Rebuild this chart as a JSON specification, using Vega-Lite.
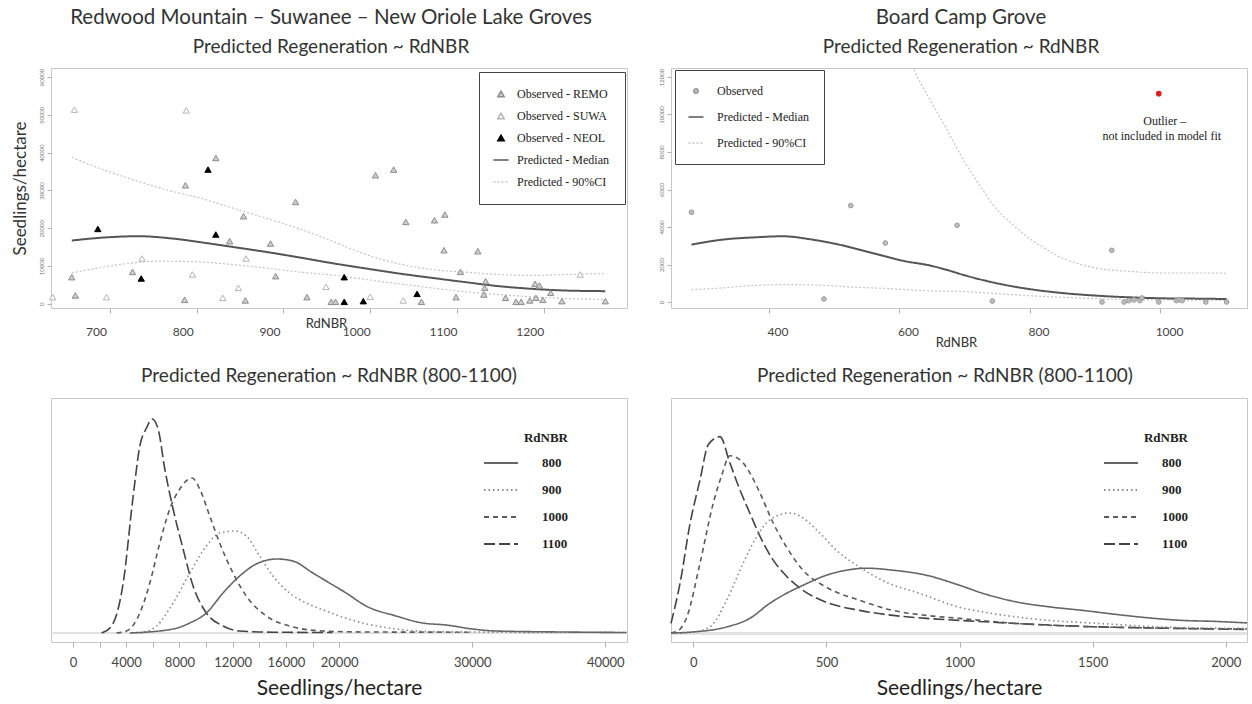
{
  "$schema": "https://vega.github.io/schema/vega-lite/v6.json",
  "background": "white",
  "padding": {"left": 10, "top": 7, "right": 4, "bottom": 6},
  "config": {
    "view": {"stroke": "#c8c8c8", "strokeWidth": 1},
    "axis": {"domain": false, "grid": false, "tickColor": "#b0b0b0", "labelColor": "#444444", "labelFont": "Lato", "titleFont": "Lato", "titleFontWeight": "normal", "titleColor": "#333333", "labelOverlap": false, "labelFlush": false},
    "title": {"font": "Lato", "fontWeight": "normal", "color": "#333333", "subtitleFont": "Lato", "subtitleColor": "#333333", "anchor": "middle"},
    "legend": {"labelFont": "Liberation Serif", "labelColor": "#222222", "labelLimit": 0}
  },
  "datasets": {
    "tl_pts": [
      {"rdnbr": 656, "sph": 7057, "series": "Observed - REMO"},
      {"rdnbr": 660, "sph": 2220, "series": "Observed - REMO"},
      {"rdnbr": 726, "sph": 8458, "series": "Observed - REMO"},
      {"rdnbr": 786, "sph": 1057, "series": "Observed - REMO"},
      {"rdnbr": 787, "sph": 31372, "series": "Observed - REMO"},
      {"rdnbr": 822, "sph": 38588, "series": "Observed - REMO"},
      {"rdnbr": 838, "sph": 16572, "series": "Observed - REMO"},
      {"rdnbr": 854, "sph": 23179, "series": "Observed - REMO"},
      {"rdnbr": 856, "sph": 898, "series": "Observed - REMO"},
      {"rdnbr": 885, "sph": 15963, "series": "Observed - REMO"},
      {"rdnbr": 891, "sph": 7321, "series": "Observed - REMO"},
      {"rdnbr": 914, "sph": 26959, "series": "Observed - REMO"},
      {"rdnbr": 927, "sph": 1770, "series": "Observed - REMO"},
      {"rdnbr": 955, "sph": 529, "series": "Observed - REMO"},
      {"rdnbr": 960, "sph": 529, "series": "Observed - REMO"},
      {"rdnbr": 1006, "sph": 34015, "series": "Observed - REMO"},
      {"rdnbr": 1027, "sph": 35522, "series": "Observed - REMO"},
      {"rdnbr": 1041, "sph": 21673, "series": "Observed - REMO"},
      {"rdnbr": 1059, "sph": 529, "series": "Observed - REMO"},
      {"rdnbr": 1074, "sph": 22122, "series": "Observed - REMO"},
      {"rdnbr": 1086, "sph": 23628, "series": "Observed - REMO"},
      {"rdnbr": 1085, "sph": 14193, "series": "Observed - REMO"},
      {"rdnbr": 1099, "sph": 1770, "series": "Observed - REMO"},
      {"rdnbr": 1104, "sph": 8458, "series": "Observed - REMO"},
      {"rdnbr": 1124, "sph": 13928, "series": "Observed - REMO"},
      {"rdnbr": 1132, "sph": 4229, "series": "Observed - REMO"},
      {"rdnbr": 1131, "sph": 2484, "series": "Observed - REMO"},
      {"rdnbr": 1133, "sph": 6000, "series": "Observed - REMO"},
      {"rdnbr": 1156, "sph": 1586, "series": "Observed - REMO"},
      {"rdnbr": 1168, "sph": 529, "series": "Observed - REMO"},
      {"rdnbr": 1174, "sph": 529, "series": "Observed - REMO"},
      {"rdnbr": 1184, "sph": 898, "series": "Observed - REMO"},
      {"rdnbr": 1190, "sph": 5286, "series": "Observed - REMO"},
      {"rdnbr": 1195, "sph": 4863, "series": "Observed - REMO"},
      {"rdnbr": 1191, "sph": 1586, "series": "Observed - REMO"},
      {"rdnbr": 1199, "sph": 1057, "series": "Observed - REMO"},
      {"rdnbr": 1208, "sph": 2907, "series": "Observed - REMO"},
      {"rdnbr": 1221, "sph": 714, "series": "Observed - REMO"},
      {"rdnbr": 1271, "sph": 714, "series": "Observed - REMO"},
      {"rdnbr": 634, "sph": 1770, "series": "Observed - SUWA"},
      {"rdnbr": 659, "sph": 51380, "series": "Observed - SUWA"},
      {"rdnbr": 696, "sph": 1770, "series": "Observed - SUWA"},
      {"rdnbr": 737, "sph": 11998, "series": "Observed - SUWA"},
      {"rdnbr": 788, "sph": 51195, "series": "Observed - SUWA"},
      {"rdnbr": 795, "sph": 7770, "series": "Observed - SUWA"},
      {"rdnbr": 830, "sph": 1586, "series": "Observed - SUWA"},
      {"rdnbr": 848, "sph": 4229, "series": "Observed - SUWA"},
      {"rdnbr": 857, "sph": 11998, "series": "Observed - SUWA"},
      {"rdnbr": 949, "sph": 4493, "series": "Observed - SUWA"},
      {"rdnbr": 1000, "sph": 1850, "series": "Observed - SUWA"},
      {"rdnbr": 1038, "sph": 898, "series": "Observed - SUWA"},
      {"rdnbr": 1242, "sph": 7770, "series": "Observed - SUWA"},
      {"rdnbr": 686, "sph": 19823, "series": "Observed - NEOL"},
      {"rdnbr": 736, "sph": 6713, "series": "Observed - NEOL"},
      {"rdnbr": 813, "sph": 35522, "series": "Observed - NEOL"},
      {"rdnbr": 822, "sph": 18342, "series": "Observed - NEOL"},
      {"rdnbr": 970, "sph": 7057, "series": "Observed - NEOL"},
      {"rdnbr": 970, "sph": 529, "series": "Observed - NEOL"},
      {"rdnbr": 992, "sph": 714, "series": "Observed - NEOL"},
      {"rdnbr": 1054, "sph": 2643, "series": "Observed - NEOL"}
    ],
    "tl_fit": [
      {"rdnbr": 656, "sph": 16750, "series": "Predicted - Median", "band": "median"},
      {"rdnbr": 687, "sph": 17445, "series": "Predicted - Median", "band": "median"},
      {"rdnbr": 733, "sph": 17890, "series": "Predicted - Median", "band": "median"},
      {"rdnbr": 772, "sph": 17280, "series": "Predicted - Median", "band": "median"},
      {"rdnbr": 810, "sph": 16120, "series": "Predicted - Median", "band": "median"},
      {"rdnbr": 849, "sph": 14800, "series": "Predicted - Median", "band": "median"},
      {"rdnbr": 887, "sph": 13480, "series": "Predicted - Median", "band": "median"},
      {"rdnbr": 921, "sph": 12170, "series": "Predicted - Median", "band": "median"},
      {"rdnbr": 954, "sph": 10840, "series": "Predicted - Median", "band": "median"},
      {"rdnbr": 995, "sph": 9356, "series": "Predicted - Median", "band": "median"},
      {"rdnbr": 1033, "sph": 8035, "series": "Predicted - Median", "band": "median"},
      {"rdnbr": 1071, "sph": 6872, "series": "Predicted - Median", "band": "median"},
      {"rdnbr": 1110, "sph": 5735, "series": "Predicted - Median", "band": "median"},
      {"rdnbr": 1148, "sph": 4678, "series": "Predicted - Median", "band": "median"},
      {"rdnbr": 1187, "sph": 3965, "series": "Predicted - Median", "band": "median"},
      {"rdnbr": 1225, "sph": 3524, "series": "Predicted - Median", "band": "median"},
      {"rdnbr": 1271, "sph": 3357, "series": "Predicted - Median", "band": "median"},
      {"rdnbr": 656, "sph": 38773, "series": "Predicted - 90%CI", "band": "upper"},
      {"rdnbr": 687, "sph": 35945, "series": "Predicted - 90%CI", "band": "upper"},
      {"rdnbr": 726, "sph": 32879, "series": "Predicted - 90%CI", "band": "upper"},
      {"rdnbr": 764, "sph": 30236, "series": "Predicted - 90%CI", "band": "upper"},
      {"rdnbr": 803, "sph": 28016, "series": "Predicted - 90%CI", "band": "upper"},
      {"rdnbr": 841, "sph": 25373, "series": "Predicted - 90%CI", "band": "upper"},
      {"rdnbr": 879, "sph": 22730, "series": "Predicted - 90%CI", "band": "upper"},
      {"rdnbr": 918, "sph": 19875, "series": "Predicted - 90%CI", "band": "upper"},
      {"rdnbr": 954, "sph": 16800, "series": "Predicted - 90%CI", "band": "upper"},
      {"rdnbr": 995, "sph": 13057, "series": "Predicted - 90%CI", "band": "upper"},
      {"rdnbr": 1033, "sph": 10572, "series": "Predicted - 90%CI", "band": "upper"},
      {"rdnbr": 1071, "sph": 9092, "series": "Predicted - 90%CI", "band": "upper"},
      {"rdnbr": 1110, "sph": 8378, "series": "Predicted - 90%CI", "band": "upper"},
      {"rdnbr": 1148, "sph": 7770, "series": "Predicted - 90%CI", "band": "upper"},
      {"rdnbr": 1187, "sph": 7506, "series": "Predicted - 90%CI", "band": "upper"},
      {"rdnbr": 1225, "sph": 7770, "series": "Predicted - 90%CI", "band": "upper"},
      {"rdnbr": 1271, "sph": 8035, "series": "Predicted - 90%CI", "band": "upper"},
      {"rdnbr": 656, "sph": 8193, "series": "Predicted - 90%CI", "band": "lower"},
      {"rdnbr": 687, "sph": 9515, "series": "Predicted - 90%CI", "band": "lower"},
      {"rdnbr": 726, "sph": 10840, "series": "Predicted - 90%CI", "band": "lower"},
      {"rdnbr": 756, "sph": 11286, "series": "Predicted - 90%CI", "band": "lower"},
      {"rdnbr": 803, "sph": 11100, "series": "Predicted - 90%CI", "band": "lower"},
      {"rdnbr": 841, "sph": 10413, "series": "Predicted - 90%CI", "band": "lower"},
      {"rdnbr": 879, "sph": 9515, "series": "Predicted - 90%CI", "band": "lower"},
      {"rdnbr": 918, "sph": 8418, "series": "Predicted - 90%CI", "band": "lower"},
      {"rdnbr": 954, "sph": 7680, "series": "Predicted - 90%CI", "band": "lower"},
      {"rdnbr": 995, "sph": 6449, "series": "Predicted - 90%CI", "band": "lower"},
      {"rdnbr": 1033, "sph": 5286, "series": "Predicted - 90%CI", "band": "lower"},
      {"rdnbr": 1071, "sph": 4229, "series": "Predicted - 90%CI", "band": "lower"},
      {"rdnbr": 1110, "sph": 3172, "series": "Predicted - 90%CI", "band": "lower"},
      {"rdnbr": 1148, "sph": 2484, "series": "Predicted - 90%CI", "band": "lower"},
      {"rdnbr": 1187, "sph": 1850, "series": "Predicted - 90%CI", "band": "lower"},
      {"rdnbr": 1225, "sph": 1427, "series": "Predicted - 90%CI", "band": "lower"},
      {"rdnbr": 1271, "sph": 1163, "series": "Predicted - 90%CI", "band": "lower"}
    ],
    "tr_pts": [
      {"rdnbr": 282, "sph": 4784, "series": "Observed"},
      {"rdnbr": 485, "sph": 160, "series": "Observed"},
      {"rdnbr": 526, "sph": 5141, "series": "Observed"},
      {"rdnbr": 579, "sph": 3147, "series": "Observed"},
      {"rdnbr": 689, "sph": 4090, "series": "Observed"},
      {"rdnbr": 743, "sph": 50, "series": "Observed"},
      {"rdnbr": 926, "sph": 2757, "series": "Observed"},
      {"rdnbr": 911, "sph": 0, "series": "Observed"},
      {"rdnbr": 945, "sph": 0, "series": "Observed"},
      {"rdnbr": 952, "sph": 75, "series": "Observed"},
      {"rdnbr": 960, "sph": 110, "series": "Observed"},
      {"rdnbr": 969, "sph": 75, "series": "Observed"},
      {"rdnbr": 972, "sph": 213, "series": "Observed"},
      {"rdnbr": 998, "sph": 0, "series": "Observed"},
      {"rdnbr": 1025, "sph": 75, "series": "Observed"},
      {"rdnbr": 1030, "sph": 130, "series": "Observed"},
      {"rdnbr": 1034, "sph": 75, "series": "Observed"},
      {"rdnbr": 1070, "sph": 0, "series": "Observed"},
      {"rdnbr": 1102, "sph": 0, "series": "Observed"}
    ],
    "tr_outlier": [
      {"rdnbr": 998, "sph": 11113, "note": "Outlier –", "note2": "not included in model fit"}
    ],
    "tr_fit": [
      {"rdnbr": 282, "sph": 3061, "series": "Predicted - Median", "band": "median"},
      {"rdnbr": 330, "sph": 3328, "series": "Predicted - Median", "band": "median"},
      {"rdnbr": 381, "sph": 3452, "series": "Predicted - Median", "band": "median"},
      {"rdnbr": 421, "sph": 3506, "series": "Predicted - Median", "band": "median"},
      {"rdnbr": 467, "sph": 3328, "series": "Predicted - Median", "band": "median"},
      {"rdnbr": 508, "sph": 3061, "series": "Predicted - Median", "band": "median"},
      {"rdnbr": 559, "sph": 2613, "series": "Predicted - Median", "band": "median"},
      {"rdnbr": 610, "sph": 2171, "series": "Predicted - Median", "band": "median"},
      {"rdnbr": 646, "sph": 1957, "series": "Predicted - Median", "band": "median"},
      {"rdnbr": 677, "sph": 1674, "series": "Predicted - Median", "band": "median"},
      {"rdnbr": 697, "sph": 1461, "series": "Predicted - Median", "band": "median"},
      {"rdnbr": 748, "sph": 1013, "series": "Predicted - Median", "band": "median"},
      {"rdnbr": 799, "sph": 693, "series": "Predicted - Median", "band": "median"},
      {"rdnbr": 850, "sph": 480, "series": "Predicted - Median", "band": "median"},
      {"rdnbr": 901, "sph": 341, "series": "Predicted - Median", "band": "median"},
      {"rdnbr": 952, "sph": 251, "series": "Predicted - Median", "band": "median"},
      {"rdnbr": 1003, "sph": 197, "series": "Predicted - Median", "band": "median"},
      {"rdnbr": 1054, "sph": 180, "series": "Predicted - Median", "band": "median"},
      {"rdnbr": 1102, "sph": 160, "series": "Predicted - Median", "band": "median"},
      {"rdnbr": 610, "sph": 13600, "series": "Predicted - 90%CI", "band": "upper"},
      {"rdnbr": 623, "sph": 12394, "series": "Predicted - 90%CI", "band": "upper"},
      {"rdnbr": 646, "sph": 10879, "series": "Predicted - 90%CI", "band": "upper"},
      {"rdnbr": 672, "sph": 9279, "series": "Predicted - 90%CI", "band": "upper"},
      {"rdnbr": 697, "sph": 7680, "series": "Predicted - 90%CI", "band": "upper"},
      {"rdnbr": 723, "sph": 6261, "series": "Predicted - 90%CI", "band": "upper"},
      {"rdnbr": 748, "sph": 5013, "series": "Predicted - 90%CI", "band": "upper"},
      {"rdnbr": 774, "sph": 4128, "series": "Predicted - 90%CI", "band": "upper"},
      {"rdnbr": 799, "sph": 3413, "series": "Predicted - 90%CI", "band": "upper"},
      {"rdnbr": 825, "sph": 2827, "series": "Predicted - 90%CI", "band": "upper"},
      {"rdnbr": 850, "sph": 2347, "series": "Predicted - 90%CI", "band": "upper"},
      {"rdnbr": 876, "sph": 2026, "series": "Predicted - 90%CI", "band": "upper"},
      {"rdnbr": 901, "sph": 1813, "series": "Predicted - 90%CI", "band": "upper"},
      {"rdnbr": 952, "sph": 1637, "series": "Predicted - 90%CI", "band": "upper"},
      {"rdnbr": 1003, "sph": 1548, "series": "Predicted - 90%CI", "band": "upper"},
      {"rdnbr": 1054, "sph": 1548, "series": "Predicted - 90%CI", "band": "upper"},
      {"rdnbr": 1102, "sph": 1530, "series": "Predicted - 90%CI", "band": "upper"},
      {"rdnbr": 282, "sph": 661, "series": "Predicted - 90%CI", "band": "lower"},
      {"rdnbr": 330, "sph": 750, "series": "Predicted - 90%CI", "band": "lower"},
      {"rdnbr": 381, "sph": 891, "series": "Predicted - 90%CI", "band": "lower"},
      {"rdnbr": 432, "sph": 928, "series": "Predicted - 90%CI", "band": "lower"},
      {"rdnbr": 483, "sph": 891, "series": "Predicted - 90%CI", "band": "lower"},
      {"rdnbr": 534, "sph": 784, "series": "Predicted - 90%CI", "band": "lower"},
      {"rdnbr": 585, "sph": 714, "series": "Predicted - 90%CI", "band": "lower"},
      {"rdnbr": 636, "sph": 608, "series": "Predicted - 90%CI", "band": "lower"},
      {"rdnbr": 677, "sph": 571, "series": "Predicted - 90%CI", "band": "lower"},
      {"rdnbr": 697, "sph": 560, "series": "Predicted - 90%CI", "band": "lower"},
      {"rdnbr": 748, "sph": 448, "series": "Predicted - 90%CI", "band": "lower"},
      {"rdnbr": 799, "sph": 341, "series": "Predicted - 90%CI", "band": "lower"},
      {"rdnbr": 850, "sph": 251, "series": "Predicted - 90%CI", "band": "lower"},
      {"rdnbr": 901, "sph": 180, "series": "Predicted - 90%CI", "band": "lower"},
      {"rdnbr": 952, "sph": 126, "series": "Predicted - 90%CI", "band": "lower"},
      {"rdnbr": 1003, "sph": 110, "series": "Predicted - 90%CI", "band": "lower"},
      {"rdnbr": 1102, "sph": 90, "series": "Predicted - 90%CI", "band": "lower"}
    ],
    "bl_dens": [
      {"seedlings": 2150, "density": 0, "RdNBR": 1100},
      {"seedlings": 2900, "density": 7, "RdNBR": 1100},
      {"seedlings": 3775, "density": 50, "RdNBR": 1100},
      {"seedlings": 4525, "density": 137, "RdNBR": 1100},
      {"seedlings": 5025, "density": 187, "RdNBR": 1100},
      {"seedlings": 5525, "density": 205, "RdNBR": 1100},
      {"seedlings": 5950, "density": 214, "RdNBR": 1100},
      {"seedlings": 6400, "density": 204, "RdNBR": 1100},
      {"seedlings": 6900, "density": 164, "RdNBR": 1100},
      {"seedlings": 7525, "density": 124, "RdNBR": 1100},
      {"seedlings": 8275, "density": 84, "RdNBR": 1100},
      {"seedlings": 9025, "density": 47, "RdNBR": 1100},
      {"seedlings": 10025, "density": 20, "RdNBR": 1100},
      {"seedlings": 11275, "density": 7, "RdNBR": 1100},
      {"seedlings": 12525, "density": 2, "RdNBR": 1100},
      {"seedlings": 15025, "density": 0.8, "RdNBR": 1100},
      {"seedlings": 19500, "density": 0.5, "RdNBR": 1100},
      {"seedlings": 3275, "density": 0, "RdNBR": 1000},
      {"seedlings": 4025, "density": 2, "RdNBR": 1000},
      {"seedlings": 5025, "density": 20, "RdNBR": 1000},
      {"seedlings": 5775, "density": 50, "RdNBR": 1000},
      {"seedlings": 6525, "density": 90, "RdNBR": 1000},
      {"seedlings": 7275, "density": 124, "RdNBR": 1000},
      {"seedlings": 8025, "density": 144, "RdNBR": 1000},
      {"seedlings": 8950, "density": 155, "RdNBR": 1000},
      {"seedlings": 9525, "density": 144, "RdNBR": 1000},
      {"seedlings": 10275, "density": 117, "RdNBR": 1000},
      {"seedlings": 11025, "density": 90, "RdNBR": 1000},
      {"seedlings": 12025, "density": 60, "RdNBR": 1000},
      {"seedlings": 13025, "density": 37, "RdNBR": 1000},
      {"seedlings": 14525, "density": 17, "RdNBR": 1000},
      {"seedlings": 16275, "density": 7, "RdNBR": 1000},
      {"seedlings": 18775, "density": 2, "RdNBR": 1000},
      {"seedlings": 22000, "density": 1, "RdNBR": 1000},
      {"seedlings": 30000, "density": 0.8, "RdNBR": 1000},
      {"seedlings": 5025, "density": 0, "RdNBR": 900},
      {"seedlings": 6275, "density": 7, "RdNBR": 900},
      {"seedlings": 7525, "density": 30, "RdNBR": 900},
      {"seedlings": 8775, "density": 60, "RdNBR": 900},
      {"seedlings": 10025, "density": 87, "RdNBR": 900},
      {"seedlings": 11025, "density": 100, "RdNBR": 900},
      {"seedlings": 12150, "density": 102, "RdNBR": 900},
      {"seedlings": 13025, "density": 97, "RdNBR": 900},
      {"seedlings": 14025, "density": 77, "RdNBR": 900},
      {"seedlings": 15025, "density": 57, "RdNBR": 900},
      {"seedlings": 16275, "density": 40, "RdNBR": 900},
      {"seedlings": 17525, "density": 30, "RdNBR": 900},
      {"seedlings": 19025, "density": 22, "RdNBR": 900},
      {"seedlings": 20025, "density": 17, "RdNBR": 900},
      {"seedlings": 21775, "density": 10, "RdNBR": 900},
      {"seedlings": 24275, "density": 4, "RdNBR": 900},
      {"seedlings": 26775, "density": 1.5, "RdNBR": 900},
      {"seedlings": 30000, "density": 1, "RdNBR": 900},
      {"seedlings": 35000, "density": 0.6, "RdNBR": 900},
      {"seedlings": 41600, "density": 0.5, "RdNBR": 900},
      {"seedlings": 4275, "density": 0, "RdNBR": 800},
      {"seedlings": 7525, "density": 4, "RdNBR": 800},
      {"seedlings": 8775, "density": 10, "RdNBR": 800},
      {"seedlings": 10025, "density": 20, "RdNBR": 800},
      {"seedlings": 11275, "density": 40, "RdNBR": 800},
      {"seedlings": 12525, "density": 57, "RdNBR": 800},
      {"seedlings": 13775, "density": 69, "RdNBR": 800},
      {"seedlings": 15325, "density": 74, "RdNBR": 800},
      {"seedlings": 16525, "density": 72, "RdNBR": 800},
      {"seedlings": 18025, "density": 60, "RdNBR": 800},
      {"seedlings": 19275, "density": 50, "RdNBR": 800},
      {"seedlings": 20525, "density": 40, "RdNBR": 800},
      {"seedlings": 22025, "density": 27, "RdNBR": 800},
      {"seedlings": 24275, "density": 17, "RdNBR": 800},
      {"seedlings": 26275, "density": 10, "RdNBR": 800},
      {"seedlings": 28025, "density": 8, "RdNBR": 800},
      {"seedlings": 30025, "density": 4, "RdNBR": 800},
      {"seedlings": 31775, "density": 2, "RdNBR": 800},
      {"seedlings": 36775, "density": 1, "RdNBR": 800},
      {"seedlings": 41600, "density": 0.5, "RdNBR": 800}
    ],
    "br_dens": [
      {"seedlings": -84, "density": 10, "RdNBR": 1100},
      {"seedlings": -50, "density": 50, "RdNBR": 1100},
      {"seedlings": -12, "density": 110, "RdNBR": 1100},
      {"seedlings": 25, "density": 153, "RdNBR": 1100},
      {"seedlings": 56, "density": 188, "RdNBR": 1100},
      {"seedlings": 100, "density": 196, "RdNBR": 1100},
      {"seedlings": 137, "density": 170, "RdNBR": 1100},
      {"seedlings": 175, "density": 143, "RdNBR": 1100},
      {"seedlings": 212, "density": 120, "RdNBR": 1100},
      {"seedlings": 250, "density": 97, "RdNBR": 1100},
      {"seedlings": 300, "density": 73, "RdNBR": 1100},
      {"seedlings": 350, "density": 57, "RdNBR": 1100},
      {"seedlings": 412, "density": 43, "RdNBR": 1100},
      {"seedlings": 500, "density": 31, "RdNBR": 1100},
      {"seedlings": 625, "density": 23, "RdNBR": 1100},
      {"seedlings": 750, "density": 18, "RdNBR": 1100},
      {"seedlings": 875, "density": 15, "RdNBR": 1100},
      {"seedlings": 1000, "density": 13, "RdNBR": 1100},
      {"seedlings": 1212, "density": 10, "RdNBR": 1100},
      {"seedlings": 1462, "density": 7, "RdNBR": 1100},
      {"seedlings": 1712, "density": 5.5, "RdNBR": 1100},
      {"seedlings": 2080, "density": 4, "RdNBR": 1100},
      {"seedlings": -84, "density": 0.5, "RdNBR": 1000},
      {"seedlings": -56, "density": 3, "RdNBR": 1000},
      {"seedlings": -25, "density": 16, "RdNBR": 1000},
      {"seedlings": 25, "density": 70, "RdNBR": 1000},
      {"seedlings": 75, "density": 130, "RdNBR": 1000},
      {"seedlings": 106, "density": 157, "RdNBR": 1000},
      {"seedlings": 137, "density": 177, "RdNBR": 1000},
      {"seedlings": 175, "density": 173, "RdNBR": 1000},
      {"seedlings": 212, "density": 160, "RdNBR": 1000},
      {"seedlings": 250, "density": 140, "RdNBR": 1000},
      {"seedlings": 300, "density": 110, "RdNBR": 1000},
      {"seedlings": 350, "density": 86, "RdNBR": 1000},
      {"seedlings": 412, "density": 63, "RdNBR": 1000},
      {"seedlings": 500, "density": 46, "RdNBR": 1000},
      {"seedlings": 625, "density": 33, "RdNBR": 1000},
      {"seedlings": 750, "density": 23, "RdNBR": 1000},
      {"seedlings": 875, "density": 18, "RdNBR": 1000},
      {"seedlings": 1000, "density": 15, "RdNBR": 1000},
      {"seedlings": 1212, "density": 10, "RdNBR": 1000},
      {"seedlings": 1462, "density": 7, "RdNBR": 1000},
      {"seedlings": 1712, "density": 5.5, "RdNBR": 1000},
      {"seedlings": 2080, "density": 4.5, "RdNBR": 1000},
      {"seedlings": -84, "density": 0, "RdNBR": 900},
      {"seedlings": 0, "density": 1.5, "RdNBR": 900},
      {"seedlings": 62, "density": 6.5, "RdNBR": 900},
      {"seedlings": 125, "density": 33, "RdNBR": 900},
      {"seedlings": 187, "density": 70, "RdNBR": 900},
      {"seedlings": 237, "density": 96, "RdNBR": 900},
      {"seedlings": 287, "density": 113, "RdNBR": 900},
      {"seedlings": 362, "density": 120, "RdNBR": 900},
      {"seedlings": 412, "density": 115, "RdNBR": 900},
      {"seedlings": 475, "density": 100, "RdNBR": 900},
      {"seedlings": 537, "density": 83, "RdNBR": 900},
      {"seedlings": 625, "density": 66, "RdNBR": 900},
      {"seedlings": 725, "density": 51, "RdNBR": 900},
      {"seedlings": 850, "density": 40, "RdNBR": 900},
      {"seedlings": 1000, "density": 26, "RdNBR": 900},
      {"seedlings": 1087, "density": 21.5, "RdNBR": 900},
      {"seedlings": 1212, "density": 16.5, "RdNBR": 900},
      {"seedlings": 1337, "density": 13, "RdNBR": 900},
      {"seedlings": 1525, "density": 10, "RdNBR": 900},
      {"seedlings": 1712, "density": 7, "RdNBR": 900},
      {"seedlings": 2080, "density": 5, "RdNBR": 900},
      {"seedlings": -84, "density": 0.5, "RdNBR": 800},
      {"seedlings": 0, "density": 1.5, "RdNBR": 800},
      {"seedlings": 125, "density": 6.5, "RdNBR": 800},
      {"seedlings": 212, "density": 15, "RdNBR": 800},
      {"seedlings": 287, "density": 30, "RdNBR": 800},
      {"seedlings": 350, "density": 40, "RdNBR": 800},
      {"seedlings": 412, "density": 48, "RdNBR": 800},
      {"seedlings": 500, "density": 58, "RdNBR": 800},
      {"seedlings": 575, "density": 63, "RdNBR": 800},
      {"seedlings": 650, "density": 65, "RdNBR": 800},
      {"seedlings": 750, "density": 63, "RdNBR": 800},
      {"seedlings": 875, "density": 58, "RdNBR": 800},
      {"seedlings": 1000, "density": 48, "RdNBR": 800},
      {"seedlings": 1087, "density": 40, "RdNBR": 800},
      {"seedlings": 1212, "density": 31.5, "RdNBR": 800},
      {"seedlings": 1337, "density": 26.5, "RdNBR": 800},
      {"seedlings": 1462, "density": 23, "RdNBR": 800},
      {"seedlings": 1587, "density": 19, "RdNBR": 800},
      {"seedlings": 1712, "density": 15.5, "RdNBR": 800},
      {"seedlings": 1837, "density": 13, "RdNBR": 800},
      {"seedlings": 1962, "density": 12, "RdNBR": 800},
      {"seedlings": 2080, "density": 10.5, "RdNBR": 800}
    ]
  },
  "columns": 2,
  "bounds": "flush",
  "spacing": {"row": 90, "column": 44},
  "resolve": {
    "scale": {"stroke": "independent", "strokeDash": "independent", "fill": "independent", "shape": "independent"},
    "legend": {"stroke": "independent", "strokeDash": "independent", "fill": "independent", "shape": "independent"}
  },
  "concat": [
    {
      "width": 576,
      "height": 240,
      "title": {"text": "Redwood Mountain – Suwanee – New Oriole Lake Groves", "subtitle": "Predicted Regeneration ~ RdNBR", "fontSize": 20.5, "subtitleFontSize": 19, "offset": 11.5, "subtitlePadding": 9, "dx": -8},
      "encoding": {
        "x": {"field": "rdnbr", "type": "quantitative", "scale": {"domain": [632, 1296], "nice": false, "zero": false},
          "axis": {"values": [700, 800, 900, 1000, 1100, 1200], "format": "d", "title": "RdNBR", "titleX": 275, "titleY": 15, "titleAlign": "center", "titleBaseline": "middle", "titleFontSize": 13, "labelFontSize": 12, "labelPadding": 13, "labelOffset": -14, "tickSize": 5}},
        "y": {"field": "sph", "type": "quantitative", "scale": {"domain": [-1100, 62400], "nice": false, "zero": false},
          "axis": {"values": [0, 10000, 20000, 30000, 40000, 50000, 60000], "format": "d", "title": "Seedlings/hectare", "titleFontSize": 17, "titlePadding": 9, "labelAngle": 270, "labelAlign": "center", "labelBaseline": "bottom", "labelFontSize": 6, "labelColor": "#777777", "labelPadding": 3, "tickSize": 4}}
      },
      "layer": [
        {
          "data": {"name": "tl_fit"},
          "transform": [{"filter": "datum.band != 'median'"}],
          "mark": {"type": "line", "interpolate": "monotone", "strokeWidth": 1.2},
          "encoding": {
            "detail": {"field": "band", "type": "nominal"},
            "stroke": {"field": "series", "type": "nominal",
              "scale": {"domain": ["Observed - REMO", "Observed - SUWA", "Observed - NEOL", "Predicted - Median", "Predicted - 90%CI"], "range": ["#8c8c8c", "#b4b4b4", "#000000", "#555555", "#c4c4c4"]},
              "legend": {"orient": "none", "legendX": 428, "legendY": 4, "title": null, "padding": 16, "rowPadding": 10, "labelOffset": 10, "strokeColor": "#444444", "fillColor": "#ffffff", "labelFontSize": 12, "symbolSize": 40, "symbolStrokeWidth": 1.5}},
            "strokeDash": {"field": "series", "type": "nominal",
              "scale": {"domain": ["Observed - REMO", "Observed - SUWA", "Observed - NEOL", "Predicted - Median", "Predicted - 90%CI"], "range": [[1, 0], [1, 0], [1, 0], [1, 0], [2, 2]]},
              "legend": {"orient": "none", "legendX": 428, "legendY": 4, "title": null, "padding": 16, "rowPadding": 10, "labelOffset": 10, "strokeColor": "#444444", "fillColor": "#ffffff", "labelFontSize": 12, "symbolSize": 40, "symbolStrokeWidth": 1.5}}
          }
        },
        {
          "data": {"name": "tl_fit"},
          "transform": [{"filter": "datum.band == 'median'"}],
          "mark": {"type": "line", "interpolate": "monotone", "strokeWidth": 2},
          "encoding": {
            "stroke": {"field": "series", "type": "nominal"},
            "strokeDash": {"field": "series", "type": "nominal"}
          }
        },
        {
          "data": {"name": "tl_pts"},
          "mark": {"type": "point", "filled": true, "opacity": 1, "size": 40, "strokeWidth": 1},
          "encoding": {
            "shape": {"field": "series", "type": "nominal",
              "scale": {"domain": ["Observed - REMO", "Observed - SUWA", "Observed - NEOL", "Predicted - Median", "Predicted - 90%CI"], "range": ["triangle-up", "triangle-up", "triangle-up", "M-2.4,0L2.4,0", "M-2.4,0L2.4,0"]}},
            "fill": {"field": "series", "type": "nominal",
              "scale": {"domain": ["Observed - REMO", "Observed - SUWA", "Observed - NEOL", "Predicted - Median", "Predicted - 90%CI"], "range": ["#cfcfcf", "#ffffff", "#000000", "#ffffff", "#ffffff"]}},
            "stroke": {"field": "series", "type": "nominal"}
          }
        }
      ]
    },
    {
      "width": 576,
      "height": 240,
      "title": {"text": "Board Camp Grove", "subtitle": "Predicted Regeneration ~ RdNBR", "fontSize": 20.5, "subtitleFontSize": 19, "offset": 11.5, "subtitlePadding": 9, "dx": 2},
      "encoding": {
        "x": {"field": "rdnbr", "type": "quantitative", "scale": {"domain": [250.6, 1133.2], "nice": false, "zero": false},
          "axis": {"values": [400, 600, 800, 1000], "format": "d", "title": "RdNBR", "titleX": 285, "titleY": 34, "titleAlign": "center", "titleBaseline": "middle", "titleFontSize": 13, "labelFontSize": 12, "labelPadding": 13, "labelOffset": 9, "tickSize": 5}},
        "y": {"field": "sph", "type": "quantitative", "scale": {"domain": [-320, 12480], "nice": false, "zero": false},
          "axis": {"values": [0, 2000, 4000, 6000, 8000, 10000, 12000], "format": "d", "title": null, "labelAngle": 270, "labelAlign": "center", "labelBaseline": "bottom", "labelFontSize": 6, "labelColor": "#777777", "labelPadding": 3, "tickSize": 4}}
      },
      "layer": [
        {
          "data": {"name": "tr_fit"},
          "transform": [{"filter": "datum.band != 'median'"}],
          "mark": {"type": "line", "interpolate": "monotone", "clip": true, "strokeWidth": 1.2},
          "encoding": {
            "detail": {"field": "band", "type": "nominal"},
            "stroke": {"field": "series", "type": "nominal",
              "scale": {"domain": ["Observed", "Predicted - Median", "Predicted - 90%CI"], "range": ["#9a9a9a", "#555555", "#c4c4c4"]},
              "legend": {"orient": "none", "legendX": 4, "legendY": 2, "title": null, "padding": 15, "rowPadding": 14, "labelOffset": 15, "strokeColor": "#444444", "fillColor": "#ffffff", "labelFontSize": 12, "symbolSize": 22, "symbolStrokeWidth": 1.5}},
            "strokeDash": {"field": "series", "type": "nominal",
              "scale": {"domain": ["Observed", "Predicted - Median", "Predicted - 90%CI"], "range": [[1, 0], [1, 0], [2, 2]]},
              "legend": {"orient": "none", "legendX": 4, "legendY": 2, "title": null, "padding": 15, "rowPadding": 14, "labelOffset": 15, "strokeColor": "#444444", "fillColor": "#ffffff", "labelFontSize": 12, "symbolSize": 22, "symbolStrokeWidth": 1.5}}
          }
        },
        {
          "data": {"name": "tr_fit"},
          "transform": [{"filter": "datum.band == 'median'"}],
          "mark": {"type": "line", "interpolate": "monotone", "strokeWidth": 2},
          "encoding": {
            "stroke": {"field": "series", "type": "nominal"},
            "strokeDash": {"field": "series", "type": "nominal"}
          }
        },
        {
          "data": {"name": "tr_pts"},
          "mark": {"type": "point", "filled": true, "opacity": 1, "size": 22, "strokeWidth": 1},
          "encoding": {
            "shape": {"field": "series", "type": "nominal",
              "scale": {"domain": ["Observed", "Predicted - Median", "Predicted - 90%CI"], "range": ["circle", "M-3.2,0L3.2,0", "M-3.2,0L3.2,0"]}},
            "fill": {"field": "series", "type": "nominal",
              "scale": {"domain": ["Observed", "Predicted - Median", "Predicted - 90%CI"], "range": ["#bdbdbd", "#ffffff", "#ffffff"]}},
            "stroke": {"field": "series", "type": "nominal"}
          }
        },
        {
          "data": {"name": "tr_outlier"},
          "mark": {"type": "point", "filled": true, "opacity": 1, "size": 32, "color": "#e01b1b"}
        },
        {
          "data": {"name": "tr_outlier"},
          "mark": {"type": "text", "font": "Liberation Serif", "fontSize": 12, "color": "#222222", "align": "center", "baseline": "middle", "dx": 6, "dy": 27},
          "encoding": {"text": {"field": "note", "type": "nominal"}}
        },
        {
          "data": {"name": "tr_outlier"},
          "mark": {"type": "text", "font": "Liberation Serif", "fontSize": 12, "color": "#222222", "align": "center", "baseline": "middle", "dx": 3, "dy": 42},
          "encoding": {"text": {"field": "note2", "type": "nominal"}}
        }
      ]
    },
    {
      "width": 576,
      "height": 244,
      "title": {"text": "Predicted Regeneration ~ RdNBR (800-1100)", "fontSize": 19, "offset": 12, "dx": -10},
      "data": {"name": "bl_dens"},
      "layer": [
        {
          "mark": {"type": "rule", "color": "#e2e2e2", "strokeWidth": 2},
          "encoding": {"y": {"datum": 0, "type": "quantitative", "axis": {"title": null, "labels": false, "ticks": false, "domain": false, "grid": false}}}
        },
        {
          "mark": {"type": "line", "interpolate": "monotone", "strokeWidth": 1.6},
          "encoding": {
            "x": {"field": "seedlings", "type": "quantitative", "scale": {"domain": [-1650, 41630], "nice": false, "zero": false},
              "axis": {"values": [0, 2000, 4000, 6000, 8000, 10000, 12000, 14000, 16000, 18000, 20000, 30000, 40000], "format": "d", "labelExpr": "indexof([2000, 6000, 10000, 14000, 18000], datum.value) >= 0 ? '' : datum.label", "title": "Seedlings/hectare", "titleFontSize": 21, "titleColor": "#222222", "titlePadding": 8, "labelFontSize": 13, "labelPadding": 9, "tickSize": 5}},
            "y": {"field": "density", "type": "quantitative", "scale": {"domain": [-9, 235], "nice": false, "zero": false}, "axis": {"title": null, "labels": false, "ticks": false, "domain": false, "grid": false}},
            "stroke": {"field": "RdNBR", "type": "nominal",
              "scale": {"domain": [800, 900, 1000, 1100], "range": ["#666666", "#8a8a8a", "#5a5a5a", "#444444"]},
              "legend": {"orient": "none", "legendX": 443, "legendY": 34, "title": "RdNBR", "titleFont": "Liberation Serif", "titleFontSize": 13, "titleFontWeight": "bold", "titleColor": "#222222", "titleAnchor": "end", "titlePadding": 11, "labelFont": "Liberation Serif", "labelFontSize": 13, "labelFontWeight": "bold", "labelOffset": 34, "symbolType": "M-3,0L3,0", "symbolSize": 128, "symbolStrokeWidth": 1.8, "rowPadding": 13, "padding": 0}},
            "strokeDash": {"field": "RdNBR", "type": "nominal",
              "scale": {"domain": [800, 900, 1000, 1100], "range": [[1, 0], [1.5, 3], [5, 4], [11, 4]]},
              "legend": {"orient": "none", "legendX": 443, "legendY": 34, "title": "RdNBR", "titleFont": "Liberation Serif", "titleFontSize": 13, "titleFontWeight": "bold", "titleColor": "#222222", "titleAnchor": "end", "titlePadding": 11, "labelFont": "Liberation Serif", "labelFontSize": 13, "labelFontWeight": "bold", "labelOffset": 34, "symbolType": "M-3,0L3,0", "symbolSize": 128, "symbolStrokeWidth": 1.8, "rowPadding": 13, "padding": 0}}
          }
        }
      ]
    },
    {
      "width": 576,
      "height": 244,
      "title": {"text": "Predicted Regeneration ~ RdNBR (800-1100)", "fontSize": 19, "offset": 12, "dx": -14},
      "data": {"name": "br_dens"},
      "layer": [
        {
          "mark": {"type": "rule", "color": "#e2e2e2", "strokeWidth": 2},
          "encoding": {"y": {"datum": 0, "type": "quantitative", "axis": {"title": null, "labels": false, "ticks": false, "domain": false, "grid": false}}}
        },
        {
          "mark": {"type": "line", "interpolate": "monotone", "strokeWidth": 1.6},
          "encoding": {
            "x": {"field": "seedlings", "type": "quantitative", "scale": {"domain": [-84, 2080], "nice": false, "zero": false},
              "axis": {"values": [0, 500, 1000, 1500, 2000], "format": "d", "title": "Seedlings/hectare", "titleFontSize": 21, "titleColor": "#222222", "titlePadding": 8, "labelFontSize": 13, "labelPadding": 9, "tickSize": 5}},
            "y": {"field": "density", "type": "quantitative", "scale": {"domain": [-8.5, 234.5], "nice": false, "zero": false}, "axis": {"title": null, "labels": false, "ticks": false, "domain": false, "grid": false}},
            "stroke": {"field": "RdNBR", "type": "nominal",
              "scale": {"domain": [800, 900, 1000, 1100], "range": ["#666666", "#8a8a8a", "#5a5a5a", "#444444"]},
              "legend": {"orient": "none", "legendX": 443, "legendY": 34, "title": "RdNBR", "titleFont": "Liberation Serif", "titleFontSize": 13, "titleFontWeight": "bold", "titleColor": "#222222", "titleAnchor": "end", "titlePadding": 11, "labelFont": "Liberation Serif", "labelFontSize": 13, "labelFontWeight": "bold", "labelOffset": 34, "symbolType": "M-3,0L3,0", "symbolSize": 128, "symbolStrokeWidth": 1.8, "rowPadding": 13, "padding": 0}},
            "strokeDash": {"field": "RdNBR", "type": "nominal",
              "scale": {"domain": [800, 900, 1000, 1100], "range": [[1, 0], [1.5, 3], [5, 4], [11, 4]]},
              "legend": {"orient": "none", "legendX": 443, "legendY": 34, "title": "RdNBR", "titleFont": "Liberation Serif", "titleFontSize": 13, "titleFontWeight": "bold", "titleColor": "#222222", "titleAnchor": "end", "titlePadding": 11, "labelFont": "Liberation Serif", "labelFontSize": 13, "labelFontWeight": "bold", "labelOffset": 34, "symbolType": "M-3,0L3,0", "symbolSize": 128, "symbolStrokeWidth": 1.8, "rowPadding": 13, "padding": 0}}
          }
        }
      ]
    }
  ]
}
